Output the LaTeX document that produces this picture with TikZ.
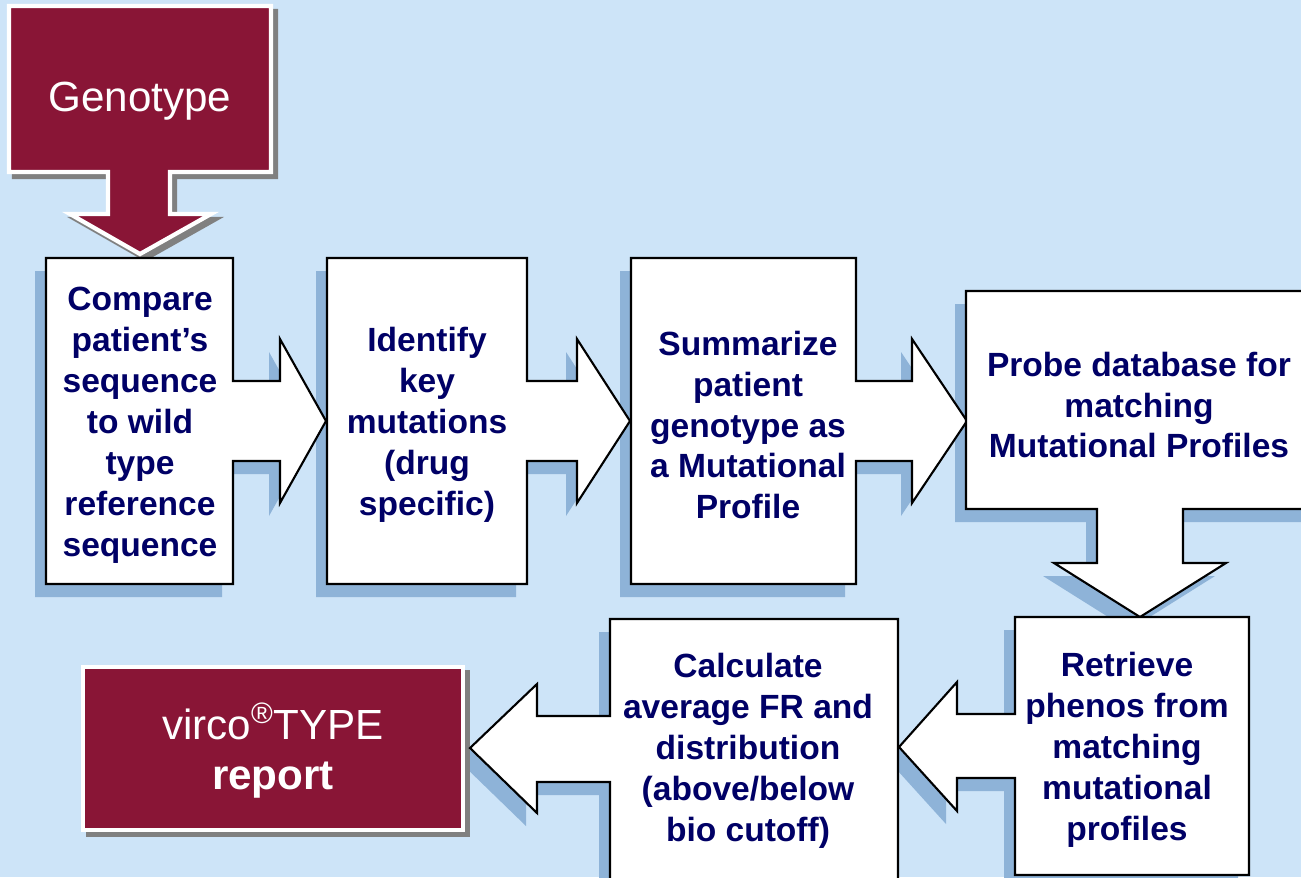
\documentclass[tikz,border=0pt]{standalone}
\usepackage{fontspec}
\setmainfont{Liberation Sans}
\definecolor{bgblue}{RGB}{205,228,248}
\definecolor{shadeblue}{RGB}{142,179,216}
\definecolor{virco}{RGB}{137,21,54}
\definecolor{navytext}{RGB}{0,0,102}
\newcommand\shapeCmp{(46,258) -- (233,258) -- (233,381) -- (280,381) -- (280,339) -- (326,421) -- (280,503) -- (280,461) -- (233,461) -- (233,584) -- (46,584) -- cycle}
\newcommand\shapeIdf{(327,258) -- (527,258) -- (527,381) -- (577,381) -- (577,339) -- (630,421) -- (577,503) -- (577,461) -- (527,461) -- (527,584) -- (327,584) -- cycle}
\newcommand\shapeSum{(631,258) -- (856,258) -- (856,381) -- (912,381) -- (912,339) -- (967,421) -- (912,503) -- (912,461) -- (856,461) -- (856,584) -- (631,584) -- cycle}
\newcommand\shapePrb{(966,291) -- (1330,291) -- (1330,509) -- (1183,509) -- (1183,563) -- (1226,563) -- (1140,617) -- (1054,563) -- (1097,563) -- (1097,509) -- (966,509) -- cycle}
\newcommand\shapeRet{(1015,617) -- (1249,617) -- (1249,875) -- (1015,875) -- (1015,778) -- (957,778) -- (957,811) -- (899,747) -- (957,682) -- (957,714) -- (1015,714) -- cycle}
\newcommand\shapeClc{(610,619) -- (898,619) -- (898,910) -- (610,910) -- (610,782) -- (537,782) -- (537,813) -- (470,748) -- (537,684) -- (537,716) -- (610,716) -- cycle}
\newcommand\shapeGen{(9,6) -- (271,6) -- (271,172) -- (170,172) -- (170,214) -- (211,214) -- (140,254) -- (70,214) -- (108,214) -- (108,172) -- (9,172) -- cycle}
\newcommand\shapeRep{(83,667) rectangle (463,830)}
\begin{document}
\begin{tikzpicture}[x=0.02cm, y=-0.02cm,
    stepbox/.style={fill=white, draw=black, line width=1.2pt},
    stepshadow/.style={fill=shadeblue, shift={(-11,13)}},
    redbox/.style={fill=virco, draw=white, line width=2.4pt},
    redshadow/.style={fill=gray, draw=gray, line width=2.4pt, shift={(5,5)}},
    steptext/.style={text=navytext, align=center, font=\fontsize{19.1}{23.3}\selectfont\bfseries},
    redtext/.style={text=white, align=center, font=\fontsize{24}{28.5}\selectfont}]
\useasboundingbox (0,0) rectangle (1301,877);
\clip (0,0) rectangle (1301,877);
\fill[bgblue] (0,0) rectangle (1301,877);
\fill[stepshadow] \shapeCmp;
\fill[stepshadow] \shapeIdf;
\fill[stepshadow] \shapeSum;
\fill[stepshadow] \shapePrb;
\fill[stepshadow] \shapeRet;
\fill[stepshadow] \shapeClc;
\filldraw[redshadow] \shapeGen;
\filldraw[redshadow] \shapeRep;
\filldraw[stepbox] \shapeCmp;
\filldraw[stepbox] \shapeIdf;
\filldraw[stepbox] \shapeSum;
\filldraw[stepbox] \shapePrb;
\filldraw[stepbox] \shapeRet;
\filldraw[stepbox] \shapeClc;
\filldraw[redbox] \shapeGen;
\filldraw[redbox] \shapeRep;
\node[redtext] (genotype) at (140,101) {Genotype};
\node[steptext] (compare) at (140,425) {Compare\\patient’s\\sequence\\to wild\\type\\reference\\sequence};
\node[steptext] (identify) at (427,425) {Identify\\key\\mutations\\(drug\\specific)};
\node[steptext] (summarize) at (748,425) {Summarize\\patient\\genotype as\\a Mutational\\Profile};
\node[steptext] (probe) at (1139,405) {Probe database for\\matching\\Mutational Profiles};
\node[steptext] (retrieve) at (1127,750) {Retrieve\\phenos from\\matching\\mutational\\profiles};
\node[steptext] (calculate) at (748,751) {Calculate\\average FR and\\distribution\\(above/below\\bio cutoff)};
\node[redtext] (report) at (273,751) {virco\textsuperscript{®}TYPE\\\textbf{report}};
\end{tikzpicture}
\end{document}
